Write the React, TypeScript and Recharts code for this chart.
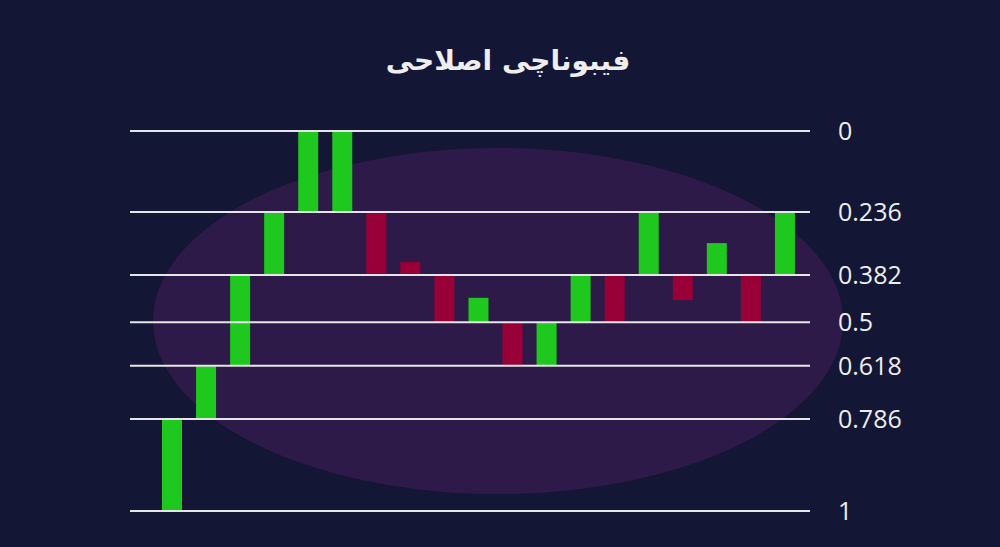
import React from "react";
import { BarChart, Bar, XAxis, YAxis, ReferenceLine, Cell } from "recharts";

// level positions as they sit in the picture (0 = top line, 1 = bottom line)
const levelPos = [0, 0.213, 0.379, 0.503, 0.618, 0.758, 1];
const levelLabels = ["0", "0.236", "0.382", "0.5", "0.618", "0.786", "1"];

const candleLow = [0.758, 0.618, 0.379, 0.213, 0, 0, 0.213, 0.345, 0.379, 0.439, 0.503, 0.503, 0.379, 0.379, 0.213, 0.379, 0.295, 0.379, 0.213];
const candleHigh = [1, 0.758, 0.618, 0.379, 0.213, 0.213, 0.379, 0.379, 0.503, 0.503, 0.618, 0.618, 0.503, 0.503, 0.379, 0.445, 0.379, 0.503, 0.379];
const candleUp = [true, true, true, true, true, true, false, false, false, true, false, true, true, false, true, false, true, false, true];

const data = candleLow.map((lo, i) => ({
  idx: i,
  range: [lo, candleHigh[i]],
  up: candleUp[i],
}));

const fmtLevel = (v: number) => {
  const i = levelPos.indexOf(v);
  return i >= 0 ? levelLabels[i] : String(v);
};

export default function App() {
  return (
    <div style={{ position: "absolute", left: 0, top: 0, width: 1000, height: 547, background: "#141635", overflow: "hidden" }}>
      <svg width={1000} height={547} style={{ position: "absolute", left: 0, top: 0 }}>
        <ellipse cx={498} cy={321} rx={345} ry={173} fill="#2e1a48" />
      </svg>
      <div
        style={{
          position: "absolute",
          left: 0,
          top: 44,
          width: 1016,
          textAlign: "center",
          fontFamily: "DejaVu Sans",
          fontWeight: "bold",
          fontSize: 28,
          color: "#eeeeee",
          direction: "rtl",
        }}
      >
        فیبوناچی اصلاحی
      </div>
      <div style={{ position: "absolute", left: 0, top: 0 }}>
        <BarChart width={1000} height={547} data={data} margin={{ top: 131, right: 90, left: 130, bottom: 36 }} barSize={20}>
          <XAxis dataKey="idx" hide padding={{ left: 25, right: 8 }} />
          <YAxis
            orientation="right"
            reversed
            domain={[0, 1]}
            ticks={levelPos}
            tickFormatter={fmtLevel}
            axisLine={false}
            tickLine={false}
            tickSize={0}
            tickMargin={28}
            width={100}
            tick={{ fill: "#eeeeee", fontSize: 25, fontFamily: "Open Sans" }}
          />
          {levelPos.map((p) => (
            <ReferenceLine key={p} y={p} stroke="#e6e6e6" strokeWidth={2} />
          ))}
          <Bar dataKey="range" isAnimationActive={false}>
            {data.map((d) => (
              <Cell key={d.idx} fill={d.up ? "#1ec81e" : "#9a0038"} />
            ))}
          </Bar>
        </BarChart>
      </div>
    </div>
  );
}
